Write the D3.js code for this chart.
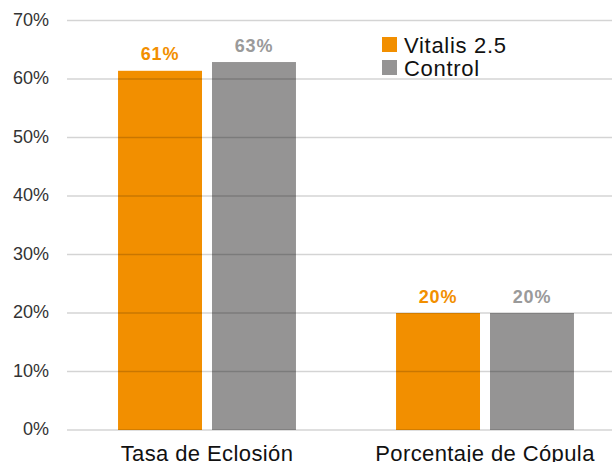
<!DOCTYPE html>
<html>
<head>
<meta charset="utf-8">
<script src="https://cdn.jsdelivr.net/npm/d3@7"></script>
<style>
  body { margin: 0; background: #fff; }
  svg { display: block; font-family: "Liberation Sans", Arial, Helvetica, sans-serif; }
</style>
</head>
<body>
<svg id="chart" width="612" height="462"></svg>
<script>
// data
const categories = ["Tasa de Eclosión", "Porcentaje de Cópula"];
const seriesNames = ["Vitalis 2.5", "Control"];
const vitalisValues = [61.4, 20];
const controlValues = [62.9, 20];
const tickValues = [0, 10, 20, 30, 40, 50, 60, 70];

const colors = { "Vitalis 2.5": "#f28f00", "Control": "#959494" };
const labelColors = { "Vitalis 2.5": "#f28f00", "Control": "#9a9a9a" };

const svg = d3.select("#chart");

const rows = categories.map((c, i) => ({
  category: c,
  values: [
    { series: "Vitalis 2.5", value: vitalisValues[i] },
    { series: "Control", value: controlValues[i] },
  ],
}));

const x0 = d3.scaleBand()
  .domain(categories)
  .range([68, 624])
  .paddingInner(0.36)
  .paddingOuter(0.18);

const x1 = d3.scaleBand()
  .domain(seriesNames)
  .range([0, x0.bandwidth()])
  .paddingInner(10 / 94);

const y = d3.scaleLinear().domain([0, 70]).range([430, 20.5]);

// bars
const groups = svg.selectAll("g.group")
  .data(rows)
  .enter()
  .append("g")
  .attr("class", "group")
  .attr("transform", (d) => `translate(${x0(d.category)},0)`);

groups.selectAll("rect")
  .data((d) => d.values)
  .enter()
  .append("rect")
  .attr("x", (d) => x1(d.series))
  .attr("y", (d) => y(d.value))
  .attr("width", x1.bandwidth())
  .attr("height", (d) => y(0) - y(d.value))
  .attr("fill", (d) => colors[d.series]);

// value labels
groups.selectAll("text.value")
  .data((d) => d.values)
  .enter()
  .append("text")
  .attr("class", "value")
  .attr("x", (d) => x1(d.series) + x1.bandwidth() / 2)
  .attr("y", (d) => y(d.value) - 10.5)
  .attr("text-anchor", "middle")
  .style("font-size", "18px")
  .style("font-weight", "700")
  .style("letter-spacing", "0.8px")
  .attr("fill", (d) => labelColors[d.series])
  .text((d) => `${Math.round(d.value)}%`);

// gridlines sit on top of the bars, slightly see-through
svg.selectAll("line.grid")
  .data(tickValues)
  .enter()
  .append("line")
  .attr("class", "grid")
  .attr("x1", 67)
  .attr("x2", 612)
  .attr("y1", (d) => y(d))
  .attr("y2", (d) => y(d))
  .attr("stroke", "#000")
  .attr("stroke-opacity", 0.17)
  .attr("stroke-width", 1.3);

// y tick labels
svg.selectAll("text.tick")
  .data(tickValues)
  .enter()
  .append("text")
  .attr("class", "tick")
  .attr("x", 49)
  .attr("y", (d) => y(d) + 5)
  .attr("text-anchor", "end")
  .style("font-size", "18px")
  .attr("fill", "#333")
  .text((d) => `${d}%`);

// category labels (cut by the bottom edge, as in the original)
svg.selectAll("text.cat")
  .data(categories)
  .enter()
  .append("text")
  .attr("class", "cat")
  .attr("x", (d) => x0(d) + x0.bandwidth() / 2)
  .attr("y", 461)
  .attr("text-anchor", "middle")
  .style("font-size", "22px")
  .style("letter-spacing", "0.4px")
  .attr("fill", "#111")
  .text((d) => d);

// legend
const legend = svg.selectAll("g.legend")
  .data(seriesNames)
  .enter()
  .append("g")
  .attr("class", "legend")
  .attr("transform", (d, i) => `translate(382,${37 + i * 23})`);

legend.append("rect")
  .attr("width", 15)
  .attr("height", 15)
  .attr("fill", (d) => colors[d]);

legend.append("text")
  .attr("x", 22)
  .attr("y", 15.5)
  .style("font-size", "22px")
  .style("letter-spacing", "0.7px")
  .attr("fill", "#111")
  .text((d) => d);
</script>
</body>
</html>
